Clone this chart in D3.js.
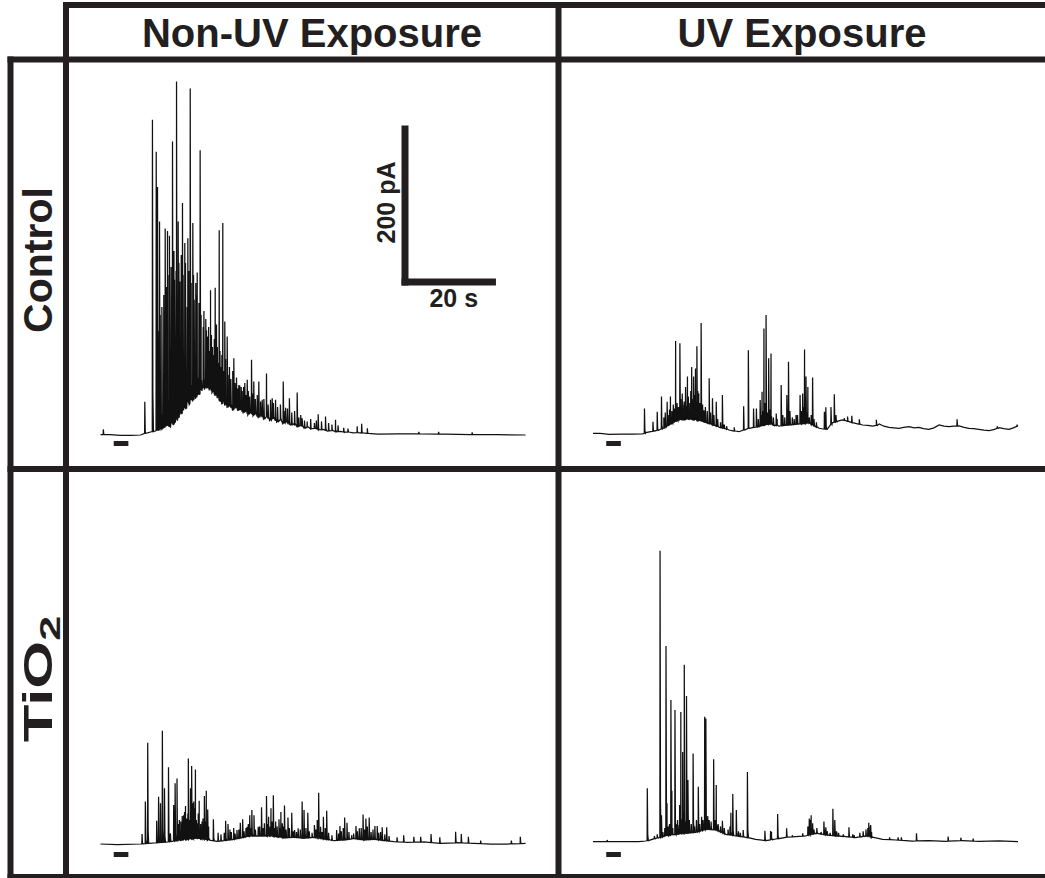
<!DOCTYPE html>
<html>
<head>
<meta charset="utf-8">
<script src="https://cdn.jsdelivr.net/npm/d3@7"></script>
<style>
  html, body { margin: 0; padding: 0; background: #fff; }
  svg { display: block; }
</style>
</head>
<body>
<svg id="chart" width="1045" height="878"></svg>
<script>
// ---- Recording window and labels ----
const timeDomain = [0, 90];        // s
const currentDomain = [0, 500];    // pA
const columnLabels = ["Non-UV Exposure", "UV Exposure"];
const rowLabels = ["Control", "TiO2"];
const stimulus = [2.8, 5.9];       // s, stimulation marker
const scaleBarCurrent = 200;       // pA
const scaleBarTime = 20;           // s

// ---- Control, non-UV: slow baseline [s, pA] and spikes [s, peak pA] ----
const ctrlNonUvBaseline = [
  [0,0.6],[2,0.4],[4.2,-0.6],[6.5,-0.4],[8.5,0],[9.5,2.5],[10.6,3.75],[11.6,5],[12.7,7.5],[13.5,10],
  [14.2,12.5],[14.6,10],[15.0,16],[15.4,13],[15.9,21],[16.3,18],[16.8,30],[17.2,26],[17.6,37.5],[18.0,33],
  [18.4,42],[18.8,38],[19.1,46],[19.5,42],[19.8,50],[20.1,45],[20.5,54],[20.9,50],[21.2,59],[21.5,55],
  [21.7,61],[22.0,57],[22.2,62.5],[22.5,58],[22.8,61],[23.0,56],[23.3,59],[23.6,53],[23.9,55],[24.2,49],
  [24.4,52.5],[24.7,46],[24.9,48],[25.2,42],[25.4,44],[25.7,39],[26.0,42],[26.3,37],[26.5,40],[26.8,34],
  [27.0,37],[27.5,35],[28.0,31],[28.6,36],[29.1,30],[29.6,33],[30.2,27],[30.7,31],[31.2,25],[31.8,29],
  [32.3,24],[32.8,27],[33.4,21],[33.9,25],[34.5,20],[35.2,23],[35.8,18],[36.6,21],[37.3,16],[38.0,19],
  [38.6,14],[39.3,17],[40.2,12],[40.9,14],[41.6,10.5],[42.4,12],[43.1,8.5],[43.8,10],[44.6,7.5],[45.5,8.5],
  [46.3,6],[47.2,7],[48.0,5],[49.0,5.5],[49.8,4],[50.8,4.5],[51.7,3.4],[52.6,3.8],[53.5,2.8],[54.4,3],
  [56.5,2],[58.7,1.25],[63,1.5],[67.8,1.25],[73,1],[78.4,0.6],[84,0.4],[90,0]
];
const ctrlNonUvSpikes = [
  [0.6,7],[9.38,41.6],[11.0,394],[11.8,354],[12.07,310],[12.5,267],[13.7,258],[14.19,255],[14.6,249],
  [15.25,367],[15.67,194],[16.1,442],[16.45,267],[16.8,192],[17.36,290],[17.85,240],[18.5,246],[19.0,433],
  [19.55,265],[19.84,169],[20.18,190],[20.48,203],[21.1,356],[21.75,135],[22.45,131],[22.72,123],[23.3,181],
  [23.72,110],[24.29,184],[24.56,138],[25.14,256],[25.9,265],[26.32,142],[26.83,123],[28.23,96],[29.29,62.5],
  [29.8,60],[30.56,65],[31.07,69],[31.98,94],[32.46,67],[33.52,67],[34.24,44],[35.15,77],[36.0,44],
  [36.36,46],[37.06,44],[38.7,67],[39.2,34],[40.0,46],[41.65,53],[42.7,21],[43.77,17],[46.1,26],[47.65,23],
  [49.77,19],[54.36,11],[55.3,14],[56.5,8.4],[67.4,4],[71.6,4],[78.7,3.4],
  // dense burst of smaller events
  [12.2,130],[12.65,150],[13.0,160],[13.4,175],[13.85,140],
  [14.0,185],[14.5,200],[14.95,210],[15.4,185],[15.55,230],
  [16.0,205],[16.6,215],[17.1,225],[17.5,200],[18.0,215],
  [18.35,160],[18.7,205],[19.2,190],[19.7,200],[20.3,175],
  [20.85,165],[21.3,150],[21.9,155],[22.3,145],[22.6,115],
  [22.9,135],[23.1,105],[23.5,125],[23.9,100],[24.1,120],[24.4,95],[24.75,110],[24.95,90],[25.3,105],
  [25.55,85],[25.7,100],[26.05,80],[26.5,95],[27.0,75],[27.3,85],[27.6,70],[28.0,80],[28.5,65],[28.8,72],
  [29.05,58],[29.5,62],[30.0,55],[30.3,60],[30.8,50],[31.3,55],[31.6,48],[32.2,52],[32.8,45],[33.2,50],
  [33.9,42],[34.6,45],[35.5,38],[36.6,40],[37.5,35],[38.1,38],[38.9,30],[39.6,33],[40.5,28],[41.1,30],
  [42.0,22],[42.4,25],[43.2,18],[44.5,20],[45.3,15],[45.7,18],[46.8,17],[48.3,15],[49.0,13],[50.3,12],
  [51.5,9],[52.4,8]
];

// ---- Control, UV ----
const ctrlUvBaseline = [
  [0,2.1],[1.5,2],[3.4,0.9],[6,1],[8.5,1.2],[10.45,1.25],[11.2,2.9],[12.5,4.5],[14.0,6.25],[15.0,9],
  [16.1,12.5],[17.2,16],[18.2,19],[19.3,19],[20.3,19.6],[21.4,19],[22.4,18],[23.5,16],[24.6,14],[25.6,12],
  [26.7,9.6],[27.8,8],[28.8,6.25],[29.9,5],[30.9,4.1],[32.0,6.5],[33.0,8.4],[34.1,9.5],[35.2,10.4],[36.3,12],
  [37.3,13.75],[38.4,12],[39.4,11.25],[40.5,12],[41.5,12.5],[42.5,13],[43.6,13.75],[44.7,14],[45.75,14.6],
  [46.8,11],[47.9,8.4],[48.7,7.5],[49.6,7.1],[50.2,12],[50.7,15.4],[51.7,17],[52.8,18.75],[53.9,17],
  [54.9,15.4],[56.0,14],[57.1,12.5],[58.2,12],[59.2,11.25],[60.0,12],[60.6,13.75],[61.6,11],[62.7,9.6],
  [63.7,9],[64.8,8.4],[65.8,9.5],[66.9,10.4],[68.0,9],[69.0,9.6],[70.0,8],[71.1,7.1],[72.2,9],[73.3,12.5],
  [74.3,11],[75.4,10.4],[76.4,11],[77.5,11.25],[78.6,9.5],[79.6,8.4],[80.6,8],[81.7,7.1],[82.8,6],
  [83.9,5.4],[85.0,7],[86.0,9.1],[87.0,8],[88.1,7.1],[89.0,9],[89.9,11.25]
];
const ctrlUvSpikes = [
  [10.9,33],[12.7,16.6],[13.6,29],[14.5,48],[15.7,41.6],[16.4,48],[17.5,117.5],[18.4,114.6],[18.9,52],
  [19.6,60],[20.0,73],[20.9,85],[21.3,73],[21.7,83],[22.0,111],[22.4,52],[22.9,140],[23.5,31],[24.6,71],
  [25.3,46],[26.1,41.6],[27.4,50],[29.9,9.6],[31.9,36],[32.9,106],[34.0,33],[34.6,33],[35.4,43.75],
  [35.8,54],[36.2,133],[36.65,150],[37.2,96],[37.7,102],[38.8,27],[39.85,62.5],[41.05,50],[41.4,91.6],
  [43.0,25],[43.85,50],[44.4,52],[44.8,107],[45.1,73],[45.5,60],[46.5,72],[49.0,29],[49.3,34.6],[50.4,35],
  [51.1,51],[51.45,25],[53.2,21],[53.9,23],[54.8,24],[56.4,19.6],[60.0,19],[77.1,19.6],[85.6,11],[89.8,12.5],
  // smaller events inside the bursts
  [15.0,22],[15.3,28],[15.9,25],[16.2,32],[16.7,30],[17.0,38],[17.3,33],[17.8,40],[18.1,35],[18.6,45],
  [19.0,38],[19.3,42],[19.8,36],[20.2,48],[20.5,40],[20.7,55],[21.0,45],[21.5,50],[21.9,42],[22.2,55],
  [22.6,40],[23.2,38],[23.8,35],[24.2,30],[24.9,28],[25.6,25],[26.4,20],[27.0,16],[27.8,13],[28.3,11],
  [35.0,20],[35.6,25],[36.0,30],[36.4,40],[36.9,28],[37.5,32],[38.2,22],[39.0,20],[40.2,25],[40.6,22],
  [41.7,30],[42.2,22],[42.6,20],[43.3,25],[44.1,30],[44.6,35],[45.3,28],[45.8,22],[46.2,25],[46.8,20],
  [47.3,16]
];

// ---- TiO2, non-UV ----
const tioNonUvBaseline = [
  [0,0],[3.5,-0.8],[8.5,0],[10.2,0.8],[12.0,1.6],[14.1,2.5],[16.2,4.2],[18.35,5.8],[20.5,6.7],[22.6,5],
  [24.7,3.3],[26.1,4.2],[28.2,5.8],[30.3,8.4],[32.5,10],[34.6,10],[36.7,9.2],[38.8,7.5],[40.9,8.4],
  [43.05,7.1],[45.2,8.4],[47.3,6.25],[49.4,4.2],[51.5,5],[53.6,6.7],[55.8,5],[57.9,5.8],[60.0,4.2],
  [62.1,2.9],[64.95,2.1],[68.5,2.5],[72,0.8],[75.5,1.6],[79.05,0.8],[82.6,0],[86.1,0],[90,0.8]
];
const tioNonUvSpikes = [
  [8.8,12.5],[9.5,53],[10.0,126.6],[11.9,29],[12.3,59],[12.7,51],[13.1,141.6],[13.55,69.6],[14.4,96],
  [14.8,13.4],[15.5,48.75],[15.8,76],[16.2,82],[16.9,17.5],[17.6,36],[18.0,47.5],[18.35,32],[18.6,107],
  [19.06,69.6],[19.3,97.5],[19.5,51],[19.75,53],[20.1,93],[20.5,26],[20.9,54],[21.5,28],[22.0,60],
  [22.4,66.6],[22.7,43],[23.9,31],[24.9,14],[26.5,29],[27.0,25],[27.4,18],[28.2,20],[28.9,17.5],[29.6,26.6],
  [30.1,31],[31.05,21.6],[31.6,36],[32.05,42.5],[32.5,36],[33.4,21.6],[34.1,46],[34.7,26],[35.15,60],
  [35.6,34],[36.1,44.6],[36.6,61],[37.1,28],[37.8,31],[38.2,40],[38.5,26],[38.96,48],[39.7,33],[40.5,39],
  [41.1,17.5],[41.85,19.6],[42.7,53],[43.1,42.5],[43.9,39],[45.3,23.75],[45.9,30],[46.2,64],[46.6,21.6],
  [47.2,34],[47.9,41.6],[50.0,17.5],[50.7,22.5],[51.7,33],[52.2,26.6],[53.2,11],[54.1,22.5],[54.8,19.6],
  [55.6,37],[56.2,32],[56.9,33],[58.1,22.5],[58.6,22.5],[59.65,21],[60.6,21],[62.8,8.4],[64.2,11],
  [66.35,9],[67.8,9],[70.0,12.5],[71.85,8.4],[75.2,15.4],[76.4,12.5],[77.9,9],[80.5,4.2],[87.0,4.2],[88.9,9],
  // smaller events
  [16.5,25],[16.7,30],[17.0,28],[17.3,35],[17.8,40],[18.1,32],[18.5,38],[18.8,30],[19.2,42],[19.6,35],
  [19.9,45],[20.3,30],[20.7,38],[21.2,25],[21.7,32],[22.2,28],[22.9,22],[25.5,12],[26.2,14],[27.7,15],
  [28.5,13],[29.3,18],[30.4,16],[30.8,20],[31.3,25],[31.8,20],[32.8,18],[33.7,22],[34.4,20],[35.4,25],
  [35.9,22],[36.3,28],[36.9,20],[37.4,22],[38.0,20],[38.7,22],[39.3,18],[40.0,20],[40.8,16],[41.5,15],
  [42.3,18],[43.5,20],[44.2,16],[44.8,14],[45.6,18],[46.9,15],[47.6,20],[48.3,14],[49.0,11],[50.4,13],
  [51.0,16],[51.4,20],[52.6,15],[53.6,13],[54.4,16],[55.2,20],[55.9,18],[56.5,22],[57.3,15],[57.7,18],
  [58.9,14],[59.3,15],[60.2,12],[61.1,10]
];

// ---- TiO2, UV ----
const tioUvBaseline = [
  [0,2.9],[2.5,2.9],[3.5,2.9],[9.7,2.9],[11.2,3.75],[13.3,7.1],[15.4,10],[17.5,12],[19.6,13.4],[21.75,14.6],
  [23.9,18.4],[26.0,17.5],[28.1,12],[30.2,10],[32.3,8.4],[34.45,5.8],[36.6,4.2],[38.7,6.25],[40.8,8.4],
  [42.9,9.2],[45.0,10],[47.2,13.4],[49.3,11.25],[51.4,10],[53.5,9.2],[55.6,7.9],[57.75,10],[59.15,8.4],
  [61.3,5.8],[64.1,5],[67.6,3.75],[71.15,4.2],[74.7,3.4],[78.2,4.2],[81.7,3.4],[86.0,3.75],[90,2.9]
];
const tioUvSpikes = [
  [3.0,5],[11.5,69.6],[14.2,366.6],[14.5,36],[15.46,247.5],[15.67,51],[16.5,180],[16.7,66.6],[17.36,167.5],
  [18.0,23.75],[18.35,48.75],[18.6,165],[18.99,115],[19.33,224],[19.8,185],[20.1,80],[21.2,113],[22.3,71.6],
  [23.0,34],[23.65,159],[23.9,157],[25.55,106],[26.1,73.75],[27.4,29],[29.2,39],[29.6,62.5],[30.35,42.5],
  [31.8,17.5],[32.7,90],[36.4,16.6],[37.6,16.25],[37.8,15.4],[39.1,37.5],[41.0,19.6],[42.2,11],[44.4,13.4],
  [45.8,32],[46.2,36],[46.5,26],[48.9,28],[49.3,21],[50.8,44],[51.2,30],[51.6,15.4],[54.2,21],[55.3,11],
  [58.4,26.6],[58.8,23.75],[62.8,8.4],[64.6,8.4],[65.3,8.4],[68.5,13.4],[75.2,9.2],[77.9,7.9],[80.5,6.7],
  // smaller events
  [13.0,10],[13.6,12],[14.8,15],[15.2,20],[15.9,22],[16.2,25],[16.9,20],[17.6,25],[17.9,30],[18.4,35],
  [19.1,40],[19.5,28],[20.4,30],[20.8,25],[21.5,22],[21.9,30],[22.6,25],[23.3,30],[24.3,35],[24.6,30],
  [25.0,28],[25.9,30],[26.5,25],[27.0,22],[27.8,20],[28.6,18],[29.0,22],[30.8,16],[31.2,14],[45.5,22],
  [45.9,26],[46.0,30],[46.4,20],[46.8,18],[47.4,20],[48.3,15],[49.2,18],[49.6,16],[50.2,14],[51.5,16],
  [52.0,14],[53.0,12],[55.0,12],[56.5,14],[57.2,16],[57.8,18],[58.2,20],[58.7,22],[59.0,15]
];

// ---- Layout ----
const ink = "#231f20";
const frameWidth = 6;
const colLeft = [66, 558.5];
const rowBottom = [469, 878];
const traceOffsetX = 34.5;
const traceOffsetY = 34;

const svg = d3.select("#chart");

const x = d3.scaleLinear().domain(timeDomain).range([0, 425]);
const y = d3.scaleLinear().domain(currentDomain).range([0, -400]);

const panels = [
  { base: ctrlNonUvBaseline, spikes: ctrlNonUvSpikes, col: 0, row: 0 },
  { base: ctrlUvBaseline,    spikes: ctrlUvSpikes,    col: 1, row: 0 },
  { base: tioNonUvBaseline,  spikes: tioNonUvSpikes,  col: 0, row: 1 },
  { base: tioUvBaseline,     spikes: tioUvSpikes,     col: 1, row: 1 }
];

// Merge the slow baseline with the spike events into one time-ordered trace.
function buildTrace(baseline, spikes) {
  const base = d3.scaleLinear()
    .domain(baseline.map(d => d[0]))
    .range(baseline.map(d => d[1]))
    .clamp(true);
  const pts = baseline.map(d => [d[0], d[1]]);
  spikes.forEach(([t, peak]) => {
    const b = base(t);
    const p = Math.max(peak, b + 2);
    pts.push([t - 0.04, b], [t, p], [t + 0.09, b + (p - b) * 0.12], [t + 0.22, b]);
  });
  pts.sort((a, b) => a[0] - b[0]);
  return pts;
}

const line = d3.line().x(d => x(d[0])).y(d => y(d[1]));

panels.forEach(p => {
  const g = svg.append("g")
    .attr("transform", `translate(${colLeft[p.col] + traceOffsetX},${rowBottom[p.row] - traceOffsetY})`);
  g.append("path")
    .datum(buildTrace(p.base, p.spikes))
    .attr("d", line)
    .attr("fill", "none")
    .attr("stroke", "#111")
    .attr("stroke-width", 1.25)
    .attr("stroke-linejoin", "miter");
  // stimulation marker
  g.append("rect")
    .attr("x", x(stimulus[0]))
    .attr("width", x(stimulus[1]) - x(stimulus[0]))
    .attr("y", p.row === 0 ? 6 : 8)
    .attr("height", 5)
    .attr("fill", ink);
});

// ---- Scale bar ----
const sb = svg.append("g").attr("transform", "translate(401.5,285.5)");
sb.append("rect").attr("x", 0).attr("y", y(scaleBarCurrent)).attr("width", 7)
  .attr("height", -y(scaleBarCurrent)).attr("fill", ink);
sb.append("rect").attr("x", 0).attr("y", -7).attr("width", x(scaleBarTime))
  .attr("height", 7).attr("fill", ink);
sb.append("text")
  .attr("transform", `translate(-7,${y(scaleBarCurrent) / 2 - 3}) rotate(-90)`)
  .attr("text-anchor", "middle")
  .attr("font-family", "Liberation Sans, Arial, sans-serif")
  .attr("font-weight", "bold").attr("font-size", 25).attr("fill", ink)
  .text(`${scaleBarCurrent} pA`);
sb.append("text")
  .attr("x", x(scaleBarTime) / 2 + 5).attr("y", 21.5)
  .attr("text-anchor", "middle")
  .attr("font-family", "Liberation Sans, Arial, sans-serif")
  .attr("font-weight", "bold").attr("font-size", 25).attr("fill", ink)
  .text(`${scaleBarTime} s`);

// ---- Frame ----
const frame = [
  [63, 5, 1045, 5],
  [7.5, 59.5, 1045, 59.5],
  [7.5, 469, 1045, 469],
  [7.5, 877, 1045, 877],
  [10.5, 56.5, 10.5, 878],
  [66, 2, 66, 878],
  [558.5, 2, 558.5, 878]
];
svg.append("g").selectAll("line").data(frame).join("line")
  .attr("x1", d => d[0]).attr("y1", d => d[1])
  .attr("x2", d => d[2]).attr("y2", d => d[3])
  .attr("stroke", ink).attr("stroke-width", frameWidth);

// ---- Column headers ----
const headerX = [312, 802];
svg.append("g").selectAll("text").data(columnLabels).join("text")
  .attr("x", (d, i) => headerX[i]).attr("y", 47)
  .attr("text-anchor", "middle")
  .attr("font-family", "Liberation Sans, Arial, sans-serif")
  .attr("font-weight", "bold").attr("font-size", 40).attr("fill", ink)
  .text(d => d);

// ---- Row headers ----
const rowY = [260, 679];
svg.append("text")
  .attr("transform", `translate(52,${rowY[0]}) rotate(-90)`)
  .attr("text-anchor", "middle")
  .attr("font-family", "Liberation Sans, Arial, sans-serif")
  .attr("font-weight", "bold").attr("font-size", 41).attr("fill", ink)
  .text(rowLabels[0]);
const tio = svg.append("text")
  .attr("transform", `translate(52,${rowY[1]}) rotate(-90) scale(1.5,1)`)
  .attr("text-anchor", "middle")
  .attr("font-family", "Liberation Sans, Arial, sans-serif")
  .attr("font-weight", "bold").attr("font-size", 41).attr("fill", ink);
tio.append("tspan").text(rowLabels[1].slice(0, 3));
tio.append("tspan").attr("font-size", 30).attr("dy", 8).text(rowLabels[1].slice(3));
</script>
</body>
</html>
